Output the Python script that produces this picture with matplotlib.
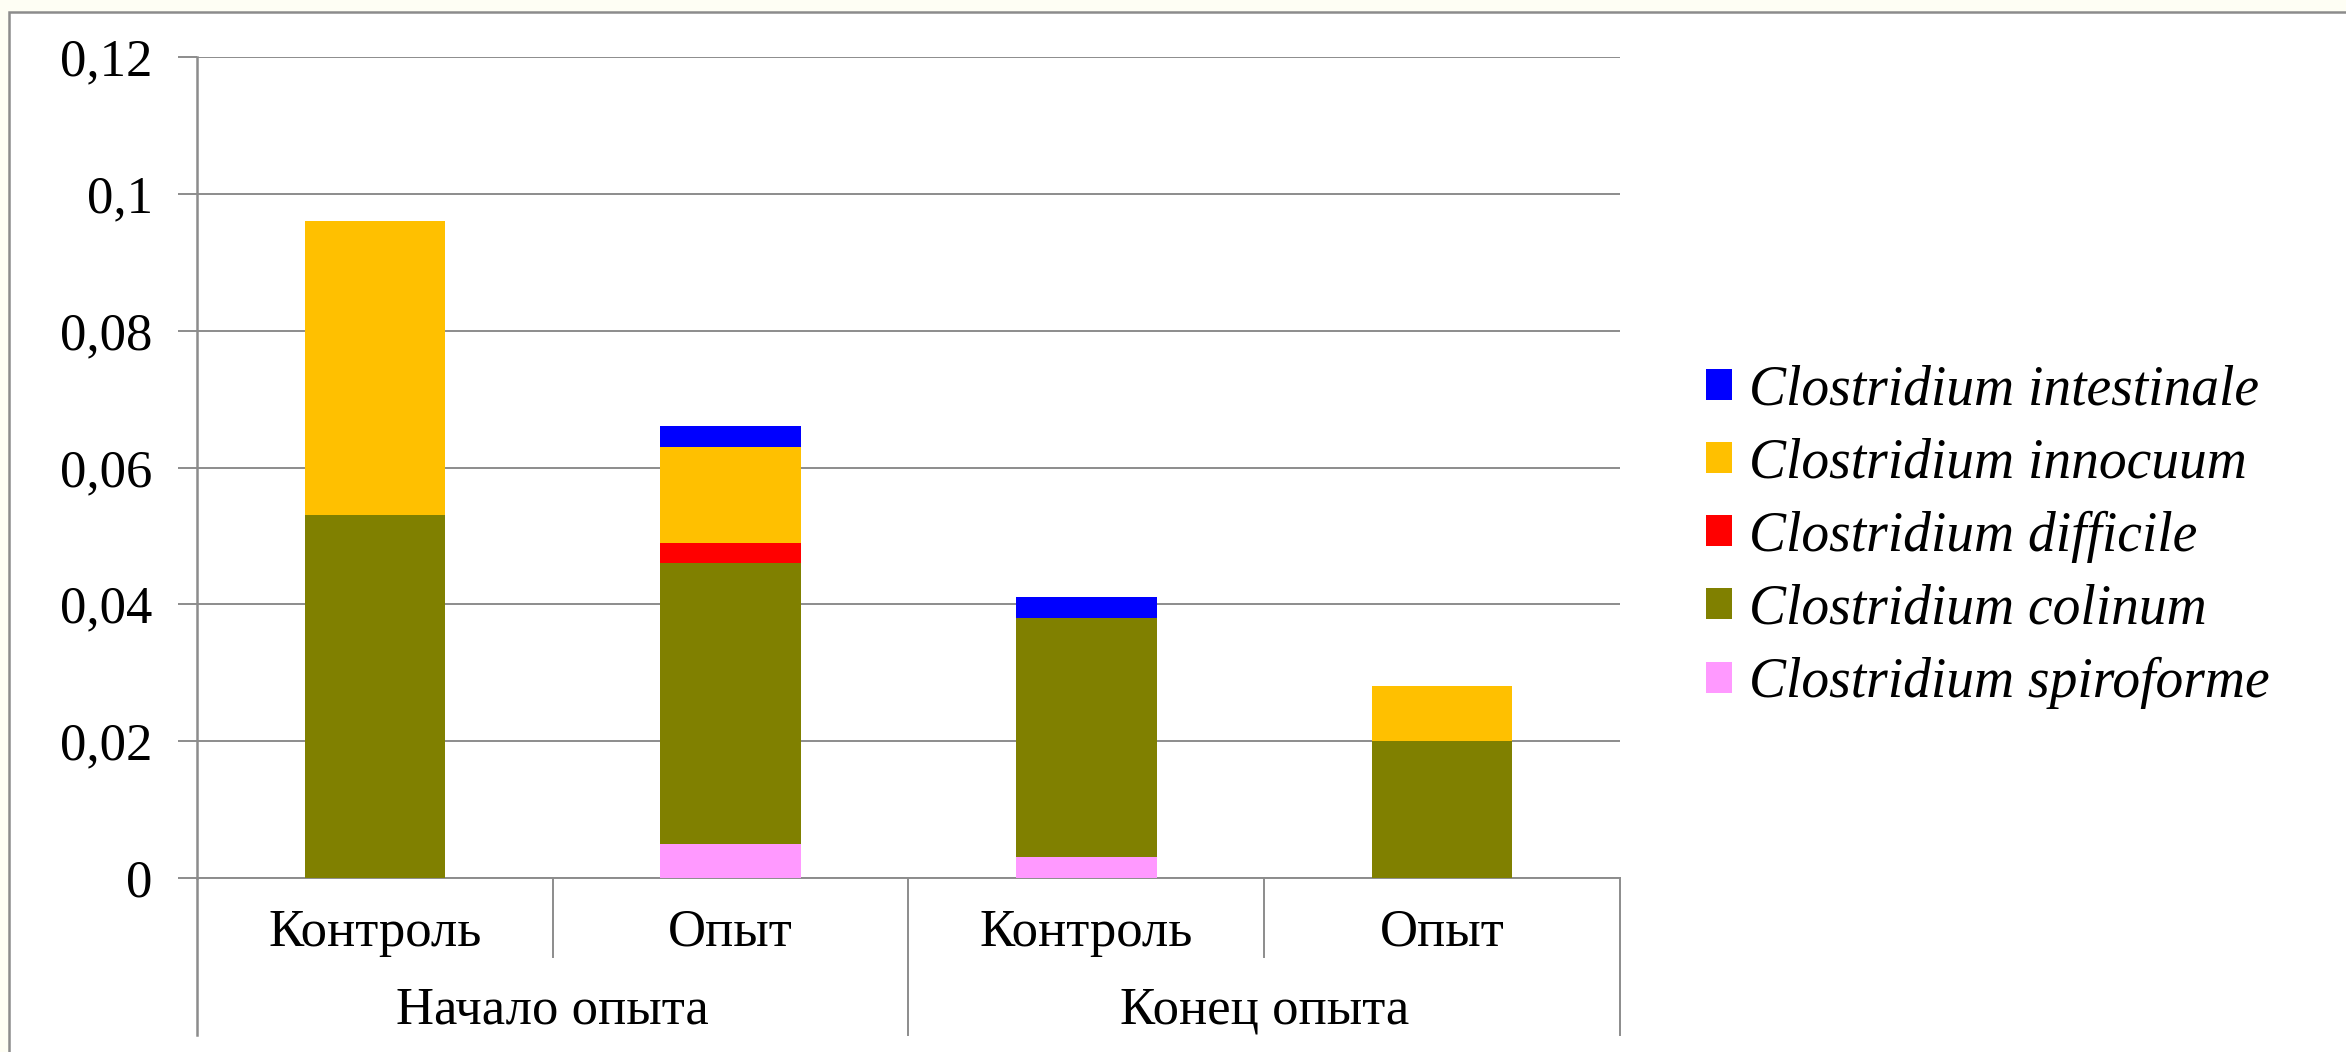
import numpy as np
import matplotlib.pyplot as plt
from matplotlib.patches import Rectangle

plt.rcParams["font.family"] = ["Liberation Serif", "DejaVu Serif"]

categories = ["Контроль", "Опыт", "Контроль", "Опыт"]
groups = ["Начало опыта", "Конец опыта"]

# stacked from bottom to top
species = ["Clostridium spiroforme", "Clostridium colinum", "Clostridium difficile",
           "Clostridium innocuum", "Clostridium intestinale"]
spiroforme = [0.0, 0.005, 0.003, 0.0]
colinum = [0.053, 0.041, 0.035, 0.020]
difficile = [0.0, 0.003, 0.0, 0.0]
innocuum = [0.043, 0.014, 0.0, 0.008]
intestinale = [0.0, 0.003, 0.003, 0.0]
colors = ["#FF99FF", "#808000", "#FF0000", "#FFC000", "#0000FF"]

yticks = [0, 0.02, 0.04, 0.06, 0.08, 0.1, 0.12]
ytick_labels = ["0", "0,02", "0,04", "0,06", "0,08", "0,1", "0,12"]

grey = "#8C8C8C"
fs = 38

fig = plt.figure(figsize=(23.46, 10.52), dpi=100)
fig.patch.set_facecolor("#FEFEF4")
fig.patches.append(Rectangle((9 / 2346, -0.1), 1.2, 1.1 - 12 / 1052,
                             transform=fig.transFigure, facecolor="white",
                             edgecolor=grey, linewidth=1.8, zorder=-5))

ax = fig.add_axes([0.0840, 0.1654, 0.6065, 0.7804])
ax.set_facecolor("white")

x = np.arange(len(categories))
bottom = np.zeros(len(categories))
for vals, c, name in zip([spiroforme, colinum, difficile, innocuum, intestinale], colors, species):
    ax.bar(x, vals, width=0.395, bottom=bottom, color=c, label=name, zorder=3)
    bottom += np.array(vals)

ax.set_xlim(-0.5, 3.5)
ax.set_ylim(0, 0.12)
ax.set_yticks(yticks, ytick_labels, fontsize=fs)
ax.tick_params(axis="y", length=14, width=1.4, color=grey, pad=18)
ax.yaxis.grid(True, color=grey, linewidth=1.4, zorder=0)
ax.set_axisbelow(True)

ax.set_xticks(x, categories, fontsize=fs)
ax.tick_params(axis="x", length=0, pad=22)

for s in ["top", "right"]:
    ax.spines[s].set_visible(False)
ax.spines["left"].set_color(grey)
ax.spines["left"].set_linewidth(1.8)
ax.spines["bottom"].set_color(grey)
ax.spines["bottom"].set_linewidth(1.4)

# category separators below the axis
tr = ax.get_xaxis_transform()
for xs in [0.5, 2.5]:
    ax.plot([xs, xs], [0, -0.096], color=grey, lw=1.4, transform=tr, clip_on=False)
for xs in [-0.5, 1.5, 3.5]:
    ax.plot([xs, xs], [0, -0.191], color=grey, lw=1.8 if xs == -0.5 else 1.4,
            transform=tr, clip_on=False)

for gx, g in zip([0.5, 2.5], groups):
    ax.text(gx, -0.162, g, transform=tr, ha="center", va="center", fontsize=fs)

handles, labels = ax.get_legend_handles_labels()
fig.legend(handles[::-1], labels[::-1], loc="center left",
           bbox_to_anchor=(0.727, 0.490), frameon=False,
           prop={"family": "Liberation Serif", "style": "italic", "size": 40},
           handlelength=0.48, handleheight=0.48, handletextpad=0.3,
           labelspacing=0.38, borderpad=0, borderaxespad=0)

fig.savefig("out.png", dpi=100, facecolor=fig.get_facecolor())
